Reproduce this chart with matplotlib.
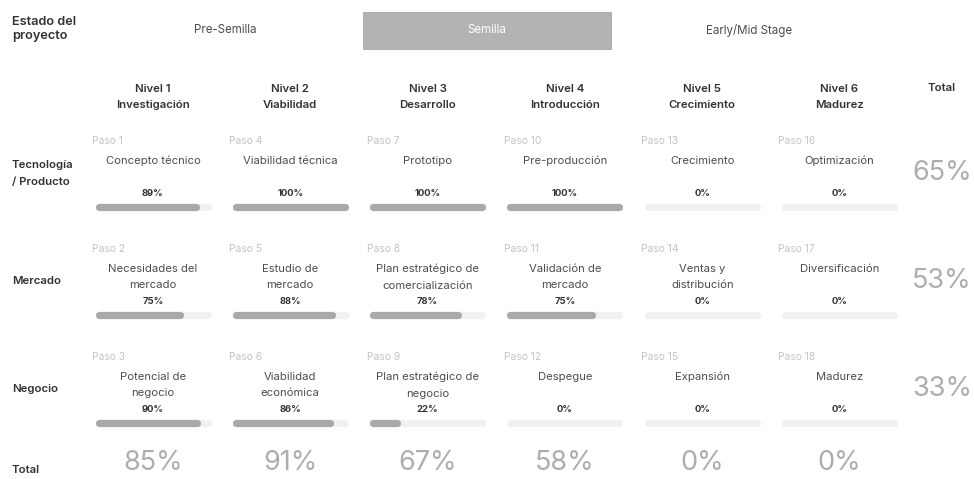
import matplotlib
matplotlib.use("Agg")
import matplotlib.pyplot as plt

plt.rcParams['font.family'] = ['Inter', 'DejaVu Sans']

# project stages
stages = ["Pre-Semilla", "Semilla", "Early/Mid Stage"]
current_stage = 1

# levels (columns)
levels = ["Nivel 1\nInvestigación", "Nivel 2\nViabilidad", "Nivel 3\nDesarrollo",
          "Nivel 4\nIntroducción", "Nivel 5\nCrecimiento", "Nivel 6\nMadurez"]

# areas (rows)
areas = ["Tecnología\n/ Producto", "Mercado", "Negocio"]

step_names = [
    ["Concepto técnico", "Viabilidad técnica", "Prototipo",
     "Pre-producción", "Crecimiento", "Optimización"],
    ["Necesidades del\nmercado", "Estudio de\nmercado", "Plan estratégico de\ncomercialización",
     "Validación de\nmercado", "Ventas y\ndistribución", "Diversificación"],
    ["Potencial de\nnegocio", "Viabilidad\neconómica", "Plan estratégico de\nnegocio",
     "Despegue", "Expansión", "Madurez"],
]

progress = [
    [89, 100, 100, 100, 0, 0],
    [75, 88, 78, 75, 0, 0],
    [90, 86, 22, 0, 0, 0],
]

row_totals = [65, 53, 33]
col_totals = [85, 91, 67, 58, 0, 0]

W, H = 974, 479
fig = plt.figure(figsize=(W / 100, H / 100), dpi=100)
ax = fig.add_axes([0, 0, 1, 1])
ax.set_xlim(0, W)
ax.set_ylim(H, 0)
ax.axis("off")

DARK = "#333333"
MID = "#4d4d4d"
LIGHT = "#c4c4c4"
BIG = "#adadad"
FILL = "#a9a9a9"
TRACK = "#f1f1f1"

# header: project stage
ax.text(12, 29, "Estado del\nproyecto", fontsize=9.2, fontweight="semibold",
        color=DARK, va="center", ha="left", linespacing=1.25)
stage_x = [225, 487, 749]
for i, (s, sx) in enumerate(zip(stages, stage_x)):
    if i == current_stage:
        ax.add_patch(plt.Rectangle((363, 12), 248, 37, facecolor="#b3b3b3",
                                   edgecolor="#a8a8a8", lw=0.6))
        ax.text(sx, 30, s, fontsize=8.3, color="white", ha="center", va="center")
    else:
        ax.text(sx, 30, s, fontsize=8.3, color=MID, ha="center", va="center")

# column headers
col_x = [153 + 137.3 * j for j in range(len(levels))]
for cx, lv in zip(col_x, levels):
    ax.text(cx, 97, lv, fontsize=8.2, fontweight="semibold", color=DARK,
            ha="center", va="center", linespacing=1.75)
ax.text(942, 88, "Total", fontsize=8.2, fontweight="semibold", color=DARK,
        ha="center", va="center")

track_w = 116
bar_lw = 5.2
r = 3.5
row_bar_y = [206.5, 314.5, 422.5]

for j in range(len(levels)):
    for i in range(len(areas)):
        x0 = col_x[j] - track_w / 2
        by = row_bar_y[i]
        ax.text(x0 - 3, by - 66, "Paso %d" % (j * 3 + i + 1), fontsize=7.4,
                color=LIGHT, ha="left", va="center")
        ax.text(col_x[j], by - 51, step_names[i][j], fontsize=8.1, color=MID,
                ha="center", va="top", linespacing=1.85)
        ax.text(col_x[j], by - 13, "%d%%" % progress[i][j], fontsize=6.8,
                fontweight="bold", color=DARK, ha="center", va="center")
        ax.plot([x0 + r, x0 + track_w - r], [by, by], color=TRACK, lw=bar_lw,
                solid_capstyle="round")
        if progress[i][j] > 0:
            x1 = x0 + r + (track_w - 2 * r) * progress[i][j] / 100
            ax.plot([x0 + r, x1], [by, by], color=FILL, lw=bar_lw,
                    solid_capstyle="round")

# row labels and row totals
for i, (a, by) in enumerate(zip(areas, row_bar_y)):
    ax.text(12, by - 33, a, fontsize=8.2, fontweight="semibold", color=DARK,
            ha="left", va="center", linespacing=1.85)
    ax.text(942, by - 33, "%d%%" % row_totals[i], fontsize=19.5,
            color=BIG, ha="center", va="center")

# column totals
ax.text(12, 470, "Total", fontsize=8.2, fontweight="semibold", color=DARK,
        ha="left", va="center")
for cx, t in zip(col_x, col_totals):
    ax.text(cx, 463, "%d%%" % t, fontsize=19.5, color=BIG,
            ha="center", va="center")

fig.savefig("out.png", dpi=100, facecolor="white")
